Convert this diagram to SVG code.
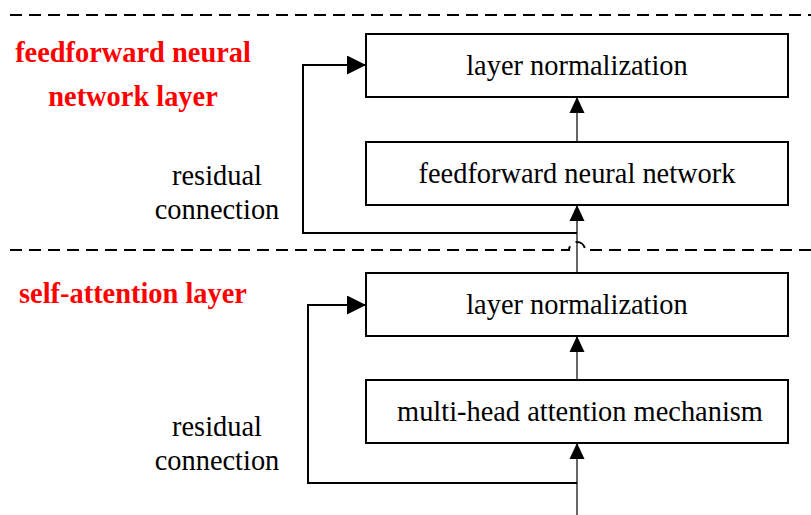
<svg xmlns="http://www.w3.org/2000/svg" width="811" height="515" viewBox="0 0 811 515">
<style>
.box{fill:#fff;stroke:#000;stroke-width:2}
.t{font-family:"Liberation Serif","Times New Roman",serif;font-size:28.4px;fill:#000;text-anchor:middle}
.r{font-family:"Liberation Serif","Times New Roman",serif;font-size:28.4px;font-weight:bold;fill:#ff0000;text-anchor:middle}
.dash{fill:none;stroke:#000;stroke-width:2;stroke-dasharray:12 7}
.main{fill:none;stroke:#000;stroke-width:1.2}
.res{fill:none;stroke:#000;stroke-width:2}
</style>
<defs>
<marker id="ah" markerUnits="userSpaceOnUse" markerWidth="16" markerHeight="17" refX="17" refY="8" orient="auto" viewBox="0 0 17 16">
<path d="M0 0L17 8L0 16z" fill="#000"/>
</marker>
<marker id="ahr" markerUnits="userSpaceOnUse" markerWidth="19" markerHeight="19" refX="19" refY="9.5" orient="auto" viewBox="0 0 19 19">
<path d="M0 0L19 9.5L0 19z" fill="#000"/>
</marker>
</defs>
<g id="separators">
<path class="dash" d="M10 15H811"/>
<path class="dash" d="M10 250H569A8 8 0 0 1 585 250H811"/>
</g>
<g id="labels">
<text class="r" x="133" y="62">feedforward neural</text>
<text class="r" x="133" y="106">network layer</text>
<text class="r" x="133" y="303">self-attention layer</text>
<text class="t" x="217" y="185">residual</text>
<text class="t" x="217" y="219">connection</text>
<text class="t" x="217" y="436">residual</text>
<text class="t" x="217" y="470">connection</text>
</g>
<g id="connectors">
<path class="main" d="M577 515V443" marker-end="url(#ah)"/>
<path class="main" d="M577 380V336" marker-end="url(#ah)"/>
<path class="main" d="M577 273V205" marker-end="url(#ah)"/>
<path class="main" d="M577 142V97" marker-end="url(#ah)"/>
<path class="res" d="M577 483H308V305H366" marker-end="url(#ahr)"/>
<path class="res" d="M577 233H303V65H366" marker-end="url(#ahr)"/>
</g>
<g id="node-ln-top">
<rect class="box" x="366" y="34" width="422" height="63"/>
<text class="t" x="577" y="75">layer normalization</text>
</g>
<g id="node-ffn">
<rect class="box" x="366" y="142" width="422" height="63"/>
<text class="t" x="577" y="183">feedforward neural network</text>
</g>
<g id="node-ln-bottom">
<rect class="box" x="366" y="273" width="422" height="63"/>
<text class="t" x="577" y="314">layer normalization</text>
</g>
<g id="node-mha">
<rect class="box" x="366" y="380" width="422" height="63"/>
<text class="t" x="580" y="421">multi-head attention mechanism</text>
</g>
</svg>
